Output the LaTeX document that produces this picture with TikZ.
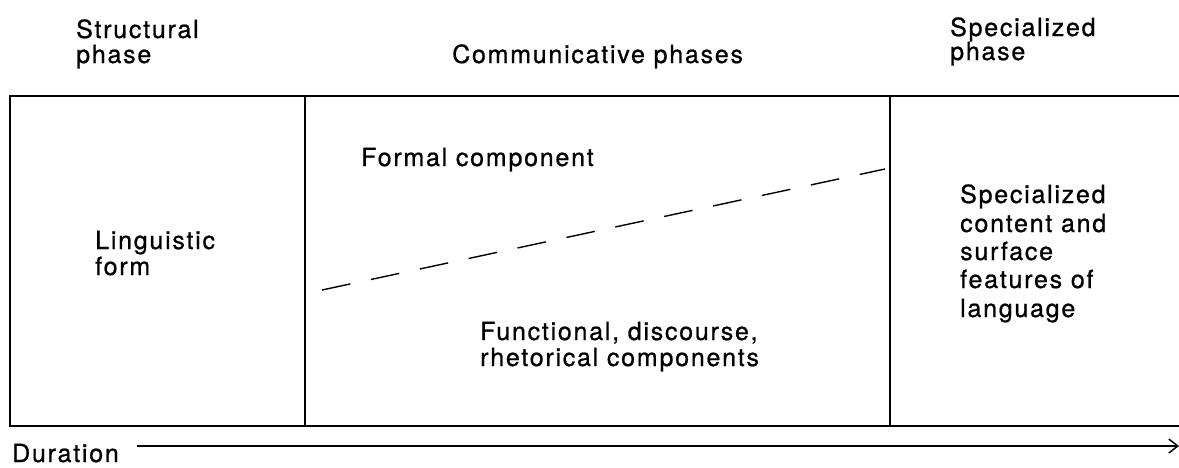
\documentclass[tikz,border=0pt]{standalone}
\usepackage{fontspec}
\setmainfont{TeX Gyre Heros}[LetterSpace=7,FakeBold=0.8]
\usetikzlibrary{arrows.meta}
\begin{document}
\begin{tikzpicture}[x=1pt,y=-1pt,
  lbl/.style={anchor=base west,inner sep=0pt,font=\fontsize{25}{25}\selectfont,align=left},
  frame/.style={line width=1.4pt,black},
  divline/.style={line width=1.4pt,black,dash pattern=on 29pt off 21pt}]
\useasboundingbox (0,0) rectangle (1179,467);
% frame coordinates
\coordinate (tl) at (10,96);
\coordinate (tr) at (1179,96);
\coordinate (bl) at (10,426);
\coordinate (br) at (1179,426);
\coordinate (d1t) at (305,96);
\coordinate (d1b) at (305,426);
\coordinate (d2t) at (890,96);
\coordinate (d2b) at (890,426);
\draw[frame] (tr) -- (tl) -- (bl) -- (br);
\draw[frame] (d1t) -- (d1b);
\draw[frame] (d2t) -- (d2b);
% headers
\node[lbl] (h1a) at (76,38) {Structural};
\node[lbl] (h1b) at (76,63) {phase};
\node[lbl] (h2) at (452,63) {Communicative phases};
\node[lbl] (h3a) at (950,36) {Specialized};
\node[lbl] (h3b) at (950,60) {phase};
% body
\node[lbl] (lf1) at (95,249) {Linguistic};
\node[lbl] (lf2) at (95,275) {form};
\node[lbl] (fc) at (361,166) {Formal component};
\node[lbl] (fd1) at (480,340) {Functional, discourse,};
\node[lbl] (fd2) at (480,366) {rhetorical components};
\node[lbl] (s1) at (960,203) {Specialized};
\node[lbl] (s2) at (960,232) {content and};
\node[lbl] (s3) at (960,260) {surface};
\node[lbl] (s4) at (960,288) {features of};
\node[lbl] (s5) at (960,317) {language};
% dashed divider
\coordinate (ds) at (322,290);
\coordinate (de) at (885,169);
\draw[divline] (ds) -- (de);
% duration arrow
\node[lbl] (dur) at (12,462) {Duration};
\coordinate (astart) at (137,446);
\coordinate (aend) at (1179,446);
\draw[line width=1.2pt,-{Straight Barb[length=9pt,width=14pt,line width=1.5pt]}] (astart) -- (aend);
\end{tikzpicture}
\end{document}
